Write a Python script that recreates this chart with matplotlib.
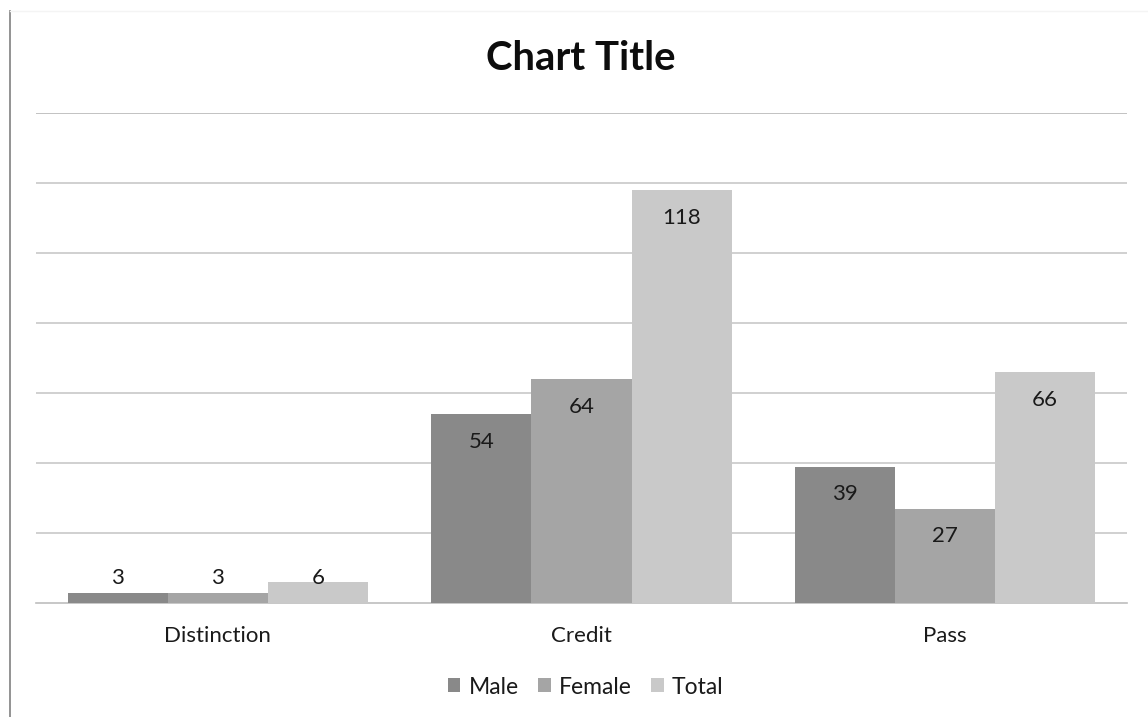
import matplotlib.pyplot as plt
import numpy as np
from matplotlib.lines import Line2D

plt.rcParams['font.family'] = ['Lato', 'DejaVu Sans']

categories = ['Distinction', 'Credit', 'Pass']
series_names = ['Male', 'Female', 'Total']
male = [3, 54, 39]
female = [3, 64, 27]
total = [6, 118, 66]
colors = ['#898989', '#a5a5a5', '#c9c9c9']

fig = plt.figure(figsize=(11.48, 7.17), dpi=100)
ax = fig.add_axes([36 / 1148, 114 / 717, 1091 / 1148, 490 / 717])

x = np.arange(len(categories))
width = 0.275
for i, (vals, name, col) in enumerate(zip([male, female, total], series_names, colors)):
    pos = x + (i - 1) * width
    ax.bar(pos, vals, width, color=col, label=name, zorder=3)
    for px, v in zip(pos, vals):
        # inside-end labels, pushed up when the bar is too short
        ly = max(v - 8, 7)
        ax.text(px, ly, str(v), ha='center', va='center', fontsize=16,
                color='#1a1a1a', zorder=4)

ax.set_xlim(-0.5, 2.5)
ax.set_ylim(0, 140)
ax.set_yticks(np.arange(20, 141, 20))
ax.yaxis.grid(True, color='#c8c8c8', linewidth=1.2, zorder=0)
ax.tick_params(axis='y', left=False, labelleft=False)
ax.tick_params(axis='x', bottom=False, labelsize=16, colors='#1a1a1a', pad=13)
ax.set_xticks(x)
ax.set_xticklabels(categories)
for s in ['top', 'right', 'left']:
    ax.spines[s].set_visible(False)
ax.spines['bottom'].set_color('#bdbdbd')
ax.spines['bottom'].set_linewidth(1.2)
ax.axhline(140, color='#a0a0a0', linewidth=1.2, zorder=1)

fig.text(0.506, 1 - 58 / 717, 'Chart Title', ha='center', va='center',
         fontsize=28.8, fontweight='bold', color='#0d0d0d')

# thin border on the left and top edge of the chart area
fig.add_artist(Line2D([9.5 / 1148, 9.5 / 1148], [0, 1 - 11 / 717],
                      color='#8a8a8a', linewidth=1.3))
fig.add_artist(Line2D([9.5 / 1148, 1], [1 - 11 / 717, 1 - 11 / 717],
                      color='#f4f4f4', linewidth=1.0))

handles, labels = ax.get_legend_handles_labels()
fig.legend(handles, labels, loc='center', bbox_to_anchor=(0.51, 1 - 687 / 717),
           ncol=3, frameon=False, fontsize=16.5, handlelength=0.55,
           handleheight=0.55, handletextpad=0.35, columnspacing=0.85,
           labelcolor='#1a1a1a')

fig.savefig('out.png', dpi=100)
